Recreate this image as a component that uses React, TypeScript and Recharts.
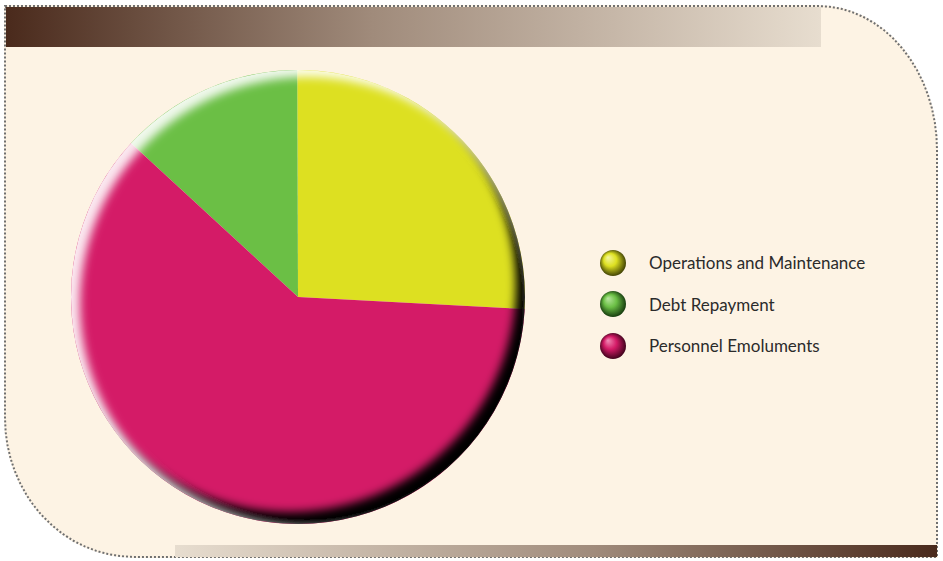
import React from 'react'
import { PieChart, Pie, Cell, Legend } from 'recharts'

// budget shares (percent)
const categories = ['Operations and Maintenance', 'Debt Repayment', 'Personnel Emoluments']
const shares = [25.9, 13.1, 61.0]
const sliceColors = ['#dde021', '#6bbf45', '#d41b67']
const sliceLights = ['#f4f6a0', '#b9e6a0', '#f08cb6']
const sliceDarks = ['#2e2f00', '#0c2c08', '#2e0013']

const slices = categories.map((name, i) => ({ name, value: shares[i] }))
const bevelData = [{ name: 'bevel', value: 1 }]

const CREAM = '#fdf3e4'
const BROWN_DARK = '#4a2a1c'
const BROWN_LIGHT = '#e7ddcf'

// legend keeps the category order (recharts would sort it by name)
function LegendList({ payload }: any) {
  const shown = (payload || []).map((p: any) => p.value)
  return (
    <ul style={{ listStyle: 'none', margin: 0, padding: 0 }}>
      {categories.filter((c) => shown.includes(c)).map((name) => {
        const i = categories.indexOf(name)
        return (
          <li key={name} style={{ display: 'flex', alignItems: 'center', height: 41.5 }}>
            <svg width={28} height={28} style={{ marginRight: 22 }}>
              <circle cx={14} cy={14} r={13} fill={`url(#ball-${i})`} />
            </svg>
            <span style={{ fontFamily: 'Lato, sans-serif', fontSize: 17, color: '#2b2b2b' }}>
              {name}
            </span>
          </li>
        )
      })}
    </ul>
  )
}

export default function App() {
  return (
    <div style={{ position: 'absolute', left: 0, top: 0, width: 943, height: 561, overflow: 'hidden', background: '#fff' }}>
      <div
        style={{
          position: 'absolute', left: 4, top: 5, width: 930, height: 549,
          background: CREAM, border: '2px dotted #707070',
          borderTopRightRadius: '120px 145px', borderBottomLeftRadius: '130px 140px',
        }}
      />
      <div
        style={{
          position: 'absolute', left: 6, top: 7, width: 815, height: 40,
          background: `linear-gradient(to right, ${BROWN_DARK}, #a08b7b 45%, ${BROWN_LIGHT})`,
        }}
      />
      <div
        style={{
          position: 'absolute', left: 175, top: 545, width: 762, height: 12,
          background: `linear-gradient(to right, ${BROWN_LIGHT}, #a08b7b 55%, ${BROWN_DARK})`,
        }}
      />
      <PieChart width={943} height={561} style={{ position: 'absolute', left: 0, top: 0 }}>
        <defs>
          <filter id="bevel" x="-10%" y="-10%" width="120%" height="120%">
            <feGaussianBlur in="SourceAlpha" stdDeviation="5" result="blur" />
            <feOffset in="blur" dx="-9" dy="-12" result="offDark" />
            <feComposite in="SourceAlpha" in2="offDark" operator="out" result="darkMask" />
            <feFlood floodColor="#000" floodOpacity="1" />
            <feComposite in2="darkMask" operator="in" result="dark" />
            <feGaussianBlur in="SourceAlpha" stdDeviation="5" result="blurL" />
            <feOffset in="blurL" dx="9" dy="7" result="offLight" />
            <feComposite in="SourceAlpha" in2="offLight" operator="out" result="lightMask" />
            <feFlood floodColor="#fff" floodOpacity="0.9" />
            <feComposite in2="lightMask" operator="in" result="light" />
            <feMerge>
              <feMergeNode in="dark" />
              <feMergeNode in="light" />
            </feMerge>
          </filter>
          {sliceColors.map((c, i) => (
            <radialGradient key={i} id={`ball-${i}`} cx="50%" cy="50%" r="55%" fx="30%" fy="28%">
              <stop offset="0%" stopColor={sliceLights[i]} />
              <stop offset="45%" stopColor={c} />
              <stop offset="100%" stopColor={sliceDarks[i]} />
            </radialGradient>
          ))}
        </defs>
        <Pie
          data={slices}
          dataKey="value"
          nameKey="name"
          cx={293}
          cy={292}
          outerRadius={227}
          startAngle={-3.05}
          endAngle={356.95}
          stroke="none"
          isAnimationActive={false}
        >
          {slices.map((_, i) => (
            <Cell key={i} fill={sliceColors[i]} />
          ))}
        </Pie>
        <Pie
          data={bevelData}
          dataKey="value"
          cx={293}
          cy={292}
          outerRadius={227}
          startAngle={90}
          endAngle={450}
          stroke="none"
          legendType="none"
          isAnimationActive={false}
        >
          <Cell fill="#000" filter="url(#bevel)" />
        </Pie>
        <Legend
          content={<LegendList />}
          wrapperStyle={{ left: 599, top: 242, width: 330, right: 'auto', bottom: 'auto' }}
        />
      </PieChart>
    </div>
  )
}
